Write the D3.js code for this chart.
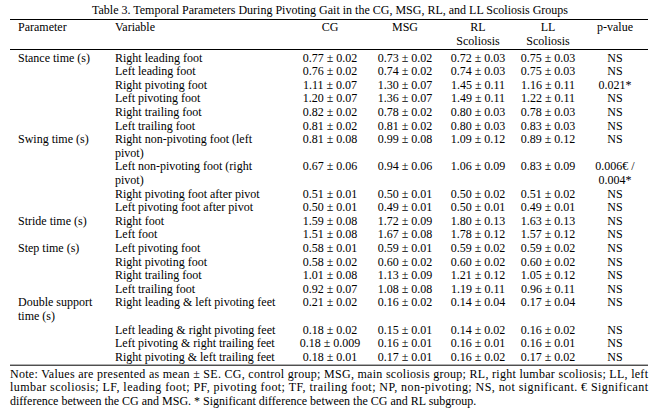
<!DOCTYPE html><html><head><meta charset="utf-8"><script src="https://cdn.jsdelivr.net/npm/d3@7"></script>
<style>body{margin:0;background:#fff}</style></head><body>
<svg id="c" width="657" height="416" style="font-family:'Liberation Serif','Times New Roman',Times,serif"></svg>
<script>
const title="Table 3. Temporal Parameters During Pivoting Gait in the CG, MSG, RL, and LL Scoliosis Groups";
const headers=[["Parameter"],["Variable"],["CG"],["MSG"],["RL","Scoliosis"],["LL","Scoliosis"],["p-value"]];
const parameters=[["Stance time (s)"],[],[],[],[],[],["Swing time (s)"],[],[],[],["Stride time (s)"],[],["Step time (s)"],[],[],[],["Double support","time (s)"],[],[],[]];
const variables=[["Right leading foot"],["Left leading foot"],["Right pivoting foot"],["Left pivoting foot"],["Right trailing foot"],["Left trailing foot"],["Right non-pivoting foot (left","pivot)"],["Left non-pivoting foot (right","pivot)"],["Right pivoting foot after pivot"],["Left pivoting foot after pivot"],["Right foot"],["Left foot"],["Left pivoting foot"],["Right pivoting foot"],["Right trailing foot"],["Left trailing foot"],["Right leading & left pivoting feet"],["Left leading & right pivoting feet"],["Left pivoting & right trailing feet"],["Right pivoting & left trailing feet"]];
const cg=["0.77 ± 0.02","0.76 ± 0.02","1.11 ± 0.07","1.20 ± 0.07","0.82 ± 0.02","0.81 ± 0.02","0.81 ± 0.08","0.67 ± 0.06","0.51 ± 0.01","0.50 ± 0.01","1.59 ± 0.08","1.51 ± 0.08","0.58 ± 0.01","0.58 ± 0.02","1.01 ± 0.08","0.92 ± 0.07","0.21 ± 0.02","0.18 ± 0.02","0.18 ± 0.009","0.18 ± 0.01"];
const msg=["0.73 ± 0.02","0.74 ± 0.02","1.30 ± 0.07","1.36 ± 0.07","0.78 ± 0.02","0.81 ± 0.02","0.99 ± 0.08","0.94 ± 0.06","0.50 ± 0.01","0.49 ± 0.01","1.72 ± 0.09","1.67 ± 0.08","0.59 ± 0.01","0.60 ± 0.02","1.13 ± 0.09","1.08 ± 0.08","0.16 ± 0.02","0.15 ± 0.01","0.16 ± 0.01","0.17 ± 0.01"];
const rl=["0.72 ± 0.03","0.74 ± 0.03","1.45 ± 0.11","1.49 ± 0.11","0.80 ± 0.03","0.80 ± 0.03","1.09 ± 0.12","1.06 ± 0.09","0.50 ± 0.02","0.50 ± 0.01","1.80 ± 0.13","1.78 ± 0.12","0.59 ± 0.02","0.60 ± 0.02","1.21 ± 0.12","1.19 ± 0.11","0.14 ± 0.04","0.14 ± 0.02","0.16 ± 0.01","0.16 ± 0.02"];
const ll=["0.75 ± 0.03","0.75 ± 0.03","1.16 ± 0.11","1.22 ± 0.11","0.78 ± 0.03","0.83 ± 0.03","0.89 ± 0.12","0.83 ± 0.09","0.51 ± 0.02","0.49 ± 0.01","1.63 ± 0.13","1.57 ± 0.12","0.59 ± 0.02","0.60 ± 0.02","1.05 ± 0.12","0.96 ± 0.11","0.17 ± 0.04","0.16 ± 0.02","0.16 ± 0.01","0.17 ± 0.02"];
const pvals=[["NS"],["NS"],["0.021*"],["NS"],["NS"],["NS"],["NS"],["0.006€ /","0.004*"],["NS"],["NS"],["NS"],["NS"],["NS"],["NS"],["NS"],["NS"],["NS"],["NS"],["NS"],["NS"]];
const notes=["Note: Values are presented as mean ± SE. CG, control group; MSG, main scoliosis group; RL, right lumbar scoliosis; LL, left","lumbar scoliosis; LF, leading foot; PF, pivoting foot; TF, trailing foot; NP, non-pivoting; NS, not significant. € Significant","difference between the CG and MSG. * Significant difference between the CG and RL subgroup."];

const svg=d3.select("#c"), fs=12, lh=13.6, L=10, R=648;
const cols=[{x:18,a:"start"},{x:115,a:"start"},{x:330,a:"middle"},{x:405,a:"middle"},{x:478,a:"middle"},{x:548,a:"middle"},{x:615,a:"middle"}];
const T=(x,y,t,a)=>svg.append("text").attr("x",x).attr("y",y).attr("text-anchor",a||"start").attr("font-size",fs).attr("fill","#000").text(t);
T(330,14,title,"middle");
svg.append("line").attr("x1",L).attr("x2",R).attr("y1",19.5).attr("y2",19.5).attr("stroke","#000");
headers.forEach((h,i)=>h.forEach((t,j)=>T(cols[i].x,31+j*lh,t,cols[i].a)));
svg.append("line").attr("x1",L).attr("x2",R).attr("y1",49.5).attr("y2",49.5).attr("stroke","#000");
const span=[1,1,1,1,1,1,2,2,1,1,1,1,1,1,1,1,2,1,1,1];
let y=61.5; const ys=[];
span.forEach(s=>{ys.push(y);y+=s*lh;});
const add=(i,lines,c)=>lines.forEach((t,j)=>T(cols[c].x,ys[i]+j*lh,t,cols[c].a));
variables.forEach((v,i)=>{add(i,parameters[i],0);add(i,v,1);add(i,[cg[i]],2);add(i,[msg[i]],3);add(i,[rl[i]],4);add(i,[ll[i]],5);add(i,pvals[i],6);});
const by=ys[ys.length-1]+4.5;
svg.append("line").attr("x1",L).attr("x2",R).attr("y1",by).attr("y2",by).attr("stroke","#000");
notes.forEach((t,j)=>{const el=T(L,by+12.5+j*lh,t);
 if(j<2) el.attr("textLength",R-L).attr("lengthAdjust","spacing");});
</script></body></html>
